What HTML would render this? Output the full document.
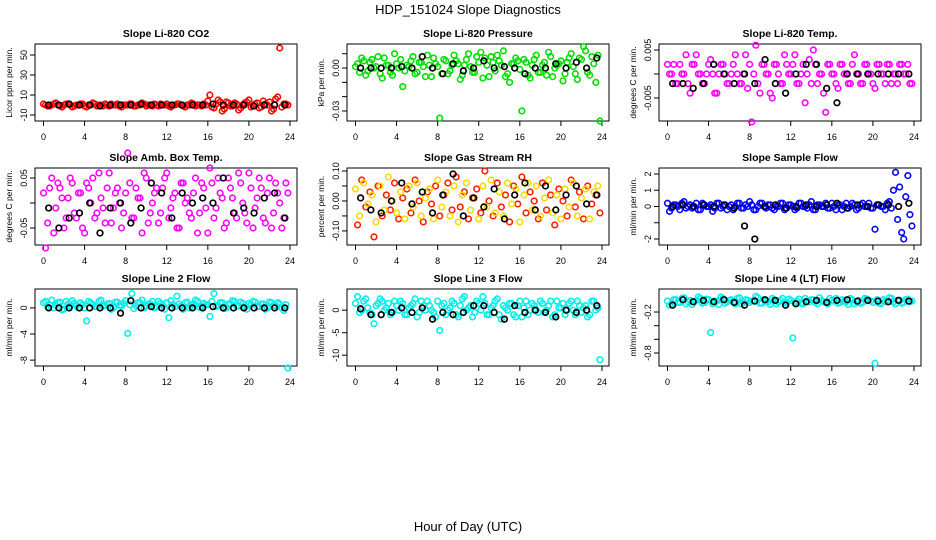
<!DOCTYPE html>
<html><head><meta charset="utf-8">
<style>
html,body{margin:0;padding:0;background:#fff;}
svg{display:block;font-family:"Liberation Sans",sans-serif;}
</style></head>
<body>
<svg id="chart" width="936" height="540" viewBox="0 0 936 540" xmlns="http://www.w3.org/2000/svg">
<text x="468" y="14" text-anchor="middle" font-size="13">HDP_151024  Slope Diagnostics</text>
<text x="468" y="531" text-anchor="middle" font-size="13">Hour of Day (UTC)</text>
</svg>
<script>
const hours = [0.2,0.6,1.0,1.4,1.8,2.2,2.6,3.0,3.4,3.8,4.2,4.6,5.0,5.4,5.8,6.2,6.6,7.0,7.4,7.8,8.2,8.6,9.0,9.4,9.8,10.2,10.6,11.0,11.4,11.8,12.2,12.6,13.0,13.4,13.8,14.2,14.6,15.0,15.4,15.8,16.2,16.6,17.0,17.4,17.8,18.2,18.6,19.0,19.4,19.8,20.2,20.6,21.0,21.4,21.8,22.2,22.6,23.0,23.4,23.8];
const hours2 = [0.0,0.4,0.8,1.2,1.6,2.0,2.4,2.8,3.2,3.6,4.0,4.4,4.8,5.2,5.6,6.0,6.4,6.8,7.2,7.6,8.0,8.4,8.8,9.2,9.6,10.0,10.4,10.8,11.2,11.6,12.0,12.4,12.8,13.2,13.6,14.0,14.4,14.8,15.2,15.6,16.0,16.4,16.8,17.2,17.6,18.0,18.4,18.8,19.2,19.6,20.0,20.4,20.8,21.2,21.6,22.0,22.4,22.8,23.2,23.6];
const blackHours = [0.5,1.5,2.5,3.5,4.5,5.5,6.5,7.5,8.5,9.5,10.5,11.5,12.5,13.5,14.5,15.5,16.5,17.5,18.5,19.5,20.5,21.5,22.5,23.5];
const xTicks = [0,4,8,12,16,20,24];

const co2 = [0,-1,1,0,-2,1,0,-1,0,1,-2,0,1,0,-1,0,1,0,-1,0,0,1,-1,0,1,0,-1,0,1,0,-1,0,1,0,-2,0,1,0,-1,0,10,-3,5,-6,3,-1,2,-5,0,3,-2,1,-3,4,0,-6,6,57,1,0];
const co2b = [1,-1,0,2,-1,0,1,-2,0,1,-1,0,2,-1,0,1,-1,0,1,-2,0,1,-1,0,2,-1,0,1,-1,0,1,-2,0,1,-1,0,2,-1,0,1,4,-2,1,3,-4,2,-1,1,-3,2,5,-1,2,-2,1,3,-4,8,-2,1];
const co2Black = [0,0,1,0,0,-1,0,0,0,1,0,0,0,0,0,0,1,0,0,0,-1,0,0,0];
const pres = [0.003,0.007,-0.005,0.004,0,0.008,-0.007,0.002,-0.003,0.010,0,-0.013,0.002,0.005,-0.004,0.004,0.001,0.009,-0.006,0.003,-0.035,0.006,-0.004,0.002,0.005,-0.008,0.002,0.010,-0.003,0.008,0.011,0.007,-0.006,0.004,0.009,0.002,-0.006,-0.010,0.003,0.005,-0.030,0.004,-0.007,0.006,-0.003,0.002,-0.005,0.008,0,0.003,-0.009,0.004,0.010,-0.004,0.007,0.015,-0.003,0.008,-0.010,-0.037];
const presb = [0.001,-0.003,0.005,-0.002,0.006,0.001,-0.004,0.007,0.002,-0.005,0.003,0.006,-0.002,0.001,0.008,-0.003,0.004,-0.006,0.002,0.007,0.001,-0.004,0.005,-0.002,0.009,0.003,-0.005,0.006,0.001,-0.003,0.004,-0.007,0.002,0.008,-0.002,0.005,0.012,-0.004,0.003,0.007,-0.001,0.006,-0.005,0.002,0.009,-0.003,0.004,0.011,-0.006,0.002,0.005,-0.004,0.007,0.001,-0.008,0.006,0.012,-0.005,0.003,0.009];
const presBlack = [0,0,0,0,0.001,0,0.008,0,-0.004,0.003,-0.002,0,0.005,0,0.001,0,-0.004,0,0,0.003,0,0.004,0,0.007];
const temp = [0,0.002,-0.002,0,0.004,-0.004,0.002,0,-0.002,0,0.003,-0.004,0,0.002,-0.002,0,0.004,-0.002,0,-0.003,-0.010,0.006,-0.004,0.002,0,-0.005,0.002,-0.002,0.004,0,0.002,-0.002,0,-0.006,0.003,0.005,-0.002,0,-0.008,0.002,0,-0.003,0.002,0,-0.002,0.004,0,-0.002,0.002,0,-0.003,0.002,0,0.002,-0.002,0,0.002,0,0.002,-0.002];
const tempb = [0.002,0,-0.002,0.002,0,-0.002,0.002,0.004,0,-0.002,0.002,0,-0.004,0.002,0,-0.002,0.002,0,-0.002,0.004,0.002,0,-0.002,0.002,0,-0.004,0.002,0,-0.002,0.002,0,0.004,-0.002,0.002,0,-0.002,0.002,0,-0.004,0.002,0,-0.002,0.002,0,-0.002,0.002,0,-0.002,0.002,0,-0.002,0.002,0,-0.002,0.002,0,-0.002,0.002,0,-0.002];
const tempBlack = [-0.002,-0.002,-0.003,-0.002,0.002,0,-0.002,0,-0.002,0.003,-0.002,-0.004,0,0.002,0.002,-0.003,-0.006,0,0,0,0,0,0,0];
const amb = [-0.09,0.03,-0.06,0.04,0.01,-0.03,0.05,-0.02,0.02,-0.05,0.04,0,-0.03,0.06,-0.01,0.03,-0.04,0.02,0,-0.02,0.10,-0.03,0.03,0.01,0.06,-0.04,0,0.03,-0.02,0.05,-0.03,0.01,-0.05,0.04,0,-0.02,0.02,-0.06,0.04,-0.01,0.07,-0.03,0.05,0.01,-0.04,0.03,-0.02,0.06,0,-0.04,0.03,-0.01,0.05,-0.03,0.02,-0.05,0.04,0,-0.03,0.02];
const ambb = [0.02,-0.04,0.05,-0.01,0.03,-0.05,0.01,0.04,-0.03,0.02,-0.06,0.03,0.05,-0.02,0.01,-0.04,0.06,-0.01,0.03,-0.05,0.02,0.04,-0.03,0.01,-0.06,0.05,-0.02,0.02,-0.04,0.03,0.06,-0.01,0.02,-0.05,0.04,0.01,-0.03,0.05,-0.02,0.03,-0.06,0.04,-0.01,0.02,-0.05,0.05,0.01,-0.03,0.04,-0.02,0.06,-0.05,0.01,0.03,-0.04,0.05,-0.02,0.02,-0.05,0.04];
const ambBlack = [-0.01,-0.05,-0.03,-0.02,0,-0.06,-0.01,0,-0.04,-0.01,0.04,0.02,-0.03,0.02,0,0.01,0,0.05,-0.02,-0.01,-0.02,0.01,0.02,-0.03];
const rh = [-0.08,0.07,-0.02,0.03,-0.12,0.05,-0.05,0.02,-0.03,0.06,-0.06,0.01,0.04,-0.04,0.07,0,-0.07,0.03,-0.01,0.05,-0.05,0.02,0.06,-0.03,0.08,-0.02,0.03,-0.06,0.01,0.04,-0.04,0.10,0,-0.05,0.06,-0.02,0.02,-0.07,0.05,-0.01,0.08,-0.04,0.03,0,-0.06,0.06,-0.03,0.02,-0.08,0.04,0,-0.05,0.07,-0.02,0.03,-0.06,0.05,-0.01,0.02,-0.04];
const rhb = [0.04,-0.05,0.06,-0.01,0.02,-0.07,0.05,-0.03,0.08,0,-0.04,0.03,-0.06,0.05,-0.02,0.06,-0.05,0.01,0.04,-0.06,0.07,-0.02,0.03,-0.05,0.05,-0.07,0.02,0.06,-0.03,0.01,-0.06,0.05,-0.02,0.07,-0.04,0.03,-0.05,0.06,-0.01,0.04,-0.07,0.02,0.06,-0.03,0.05,-0.05,0.01,0.07,-0.04,0.02,-0.06,0.04,-0.02,0.06,-0.05,0.01,0.04,-0.06,0.03,0.05];
const rhBlack = [0.01,-0.03,-0.04,0,0.06,-0.01,0.03,-0.04,0.02,0.09,-0.05,0.01,-0.02,0.04,-0.06,0.02,0.06,-0.03,0.05,-0.03,0.02,0.05,-0.01,0.02];
const sflow = [-0.3,0.1,0,0.2,-0.1,0.1,0,-0.2,0.2,0,0.1,-0.1,0.2,0,-0.2,0.1,0,0.2,-0.1,0,0.1,-0.2,0.2,0,0.1,-0.1,0,0.2,-0.2,0.1,0,-0.1,0.2,0,0.1,-0.2,0.1,0,0.2,-0.1,0,0.1,-0.2,0.2,0,0.1,-0.1,0.2,0,-0.1,-1.4,0.1,0,0.2,-0.1,2.1,1.2,-2.0,1.9,-1.2];
const sflowb = [0.2,-0.1,0.1,-0.2,0.3,0,-0.1,0.2,-0.2,0.1,0,-0.3,0.2,-0.1,0.1,0,-0.2,0.2,-0.1,0.1,0.3,-0.2,0,0.2,-0.1,0.1,-0.2,0,0.2,-0.1,0.1,-0.2,0.2,0,-0.1,0.3,-0.2,0.1,0,-0.1,0.2,-0.2,0.1,0,-0.1,0.2,-0.2,0.1,0,0.2,-0.1,0.1,0,-0.2,0.3,1.0,-0.8,-1.6,0.6,-0.5];
const sflowBlack = [0,0.1,0,0.1,0,0.1,-0.1,-1.2,-2.0,0,0.1,-0.1,0,0.1,0,0.1,0.2,-0.1,0.1,0,0.1,0.1,0,0.2];
const line2 = [1,0.5,0,0.8,-0.3,1,0.3,0.7,0,0.5,-2,0.8,0.2,1,0.3,0.6,-0.2,0.9,0.4,0.7,-3.9,2.2,0.3,0.8,0,0.6,1,0.2,0.7,-0.2,-1.5,0.5,1.8,0.3,0.8,0,0.6,1,0.2,0.5,-1.3,2.2,0.4,0.8,0,0.6,1,0.3,0.7,-0.2,0.5,0.9,0.2,0.6,0,0.8,0.3,0.6,-0.4,-9.2];
const line2b = [0.8,0.2,1.2,0.4,0.9,-0.2,0.6,1.1,0.3,0.8,0,1,0.5,0.2,1.2,0.4,0.7,0,0.9,0.3,1.1,0.5,-0.1,0.8,1.2,0.3,0.6,0,1,0.4,0.8,1.1,0.2,0.6,-0.2,0.9,0.4,1.2,0.1,0.7,0.5,1,0.2,0.8,-0.1,0.6,1.1,0.3,0.9,0.1,0.7,1,0.2,0.6,-0.2,0.9,0.4,0.8,0,0.5];
const line2Black = [0,0,0,0,0,0,0,-0.8,1.1,0,0.2,0,0,0,0,0,0.2,0,0,0,0,0,0,0];
const line3 = [3,0,2.5,-0.5,-3,1.5,2,0.5,-1,2,0,1.5,-1,1,2.5,-0.5,1,2,0,-1.5,-4.5,1.5,0,2,-1,1,3,0.5,-1.5,2,0,1.5,-1,1,2.5,-2,0.5,1.5,-1,1,-1.5,2,0,1,-0.5,1.5,0,2,-1,0.5,1.5,0,2,-1,1,0.5,-1.5,2,0,-11];
const line3b = [1.5,-0.5,2,0.5,-1,1,2.5,0,1.5,-0.5,1,2,-1,0.5,1.5,-1.5,2,0,1,-0.5,2,1,-1,0.5,1.5,-1.5,2.5,0,1,-0.5,1.5,3,-1,0.5,2,-1,1,0,1.5,-1.5,2,0.5,-1,1.5,0,2,-0.5,1,-1.5,2,0.5,-1,1.5,0,2,-0.5,1,-1,2,0.5];
const line3Black = [0.3,-1,-1,-0.5,0.5,-0.5,0.5,-2,-0.5,-1,-0.5,1,1,-0.5,-2,1,-0.5,0,-0.5,-1.5,0,-0.5,0,1];
const line4 = [-0.1,-0.02,-0.06,0,-0.08,-0.03,-0.05,0.02,-0.07,-0.01,-0.5,-0.04,-0.09,0,-0.05,-0.02,-0.08,0.01,-0.06,-0.03,-0.04,0.03,-0.07,-0.02,-0.05,0,-0.08,-0.03,-0.06,-0.01,-0.58,-0.04,-0.07,0,-0.05,-0.02,-0.08,-0.03,-0.06,0,-0.04,-0.07,-0.02,-0.05,0,-0.08,-0.03,-0.06,-0.01,-0.04,-0.95,-0.07,-0.02,-0.05,0,-0.08,-0.03,-0.06,-0.01,-0.04];
const line4b = [-0.04,-0.08,-0.02,-0.06,0.01,-0.05,-0.09,-0.03,0,-0.06,-0.02,-0.08,-0.04,0.02,-0.07,-0.03,-0.05,0,-0.08,-0.02,-0.06,-0.03,0.01,-0.07,-0.04,-0.09,-0.02,-0.05,0,-0.07,-0.03,-0.06,-0.01,-0.08,-0.04,-0.02,-0.06,0.01,-0.05,-0.08,-0.03,0,-0.06,-0.04,-0.09,-0.02,-0.05,-0.07,0,-0.03,-0.06,-0.02,-0.08,-0.04,0.01,-0.05,-0.03,-0.07,-0.02,-0.05];
const line4Black = [-0.1,-0.02,-0.05,-0.03,-0.05,-0.02,-0.06,-0.1,-0.04,-0.02,-0.03,-0.1,-0.08,-0.05,-0.03,-0.06,-0.03,-0.02,-0.04,-0.03,-0.04,-0.05,-0.03,-0.04];

const co2Ticks = [-10,10,30,50];
const presTicks = [-0.03,0.00];
const presTickLabels = ["-0.03","0.00"];
const presMinor = [-0.02,-0.01,0.01];
const tempTicks = [-0.005,0.005];
const tempMinor = [0];
const ambTicks = [-0.05,0.05];
const ambMinor = [0];
const rhTicks = [-0.10,0.00,0.10];
const rhTickLabels = ["-0.10","0.00","0.10"];
const rhMinor = [-0.05,0.05];
const sflowTicks = [-2,0,1,2];
const sflowMinor = [-1];
const line2Ticks = [-8,-4,0];
const line3Ticks = [-10,-5,0];
const line4Ticks = [-0.8,-0.2];
const line4Minor = [-0.6,-0.4];

const panels = [
 {name:"co2",title:"Slope Li-820 CO2",ylab:"Licor ppm per min.",col:0,row:0,ymin:-16,ymax:61,data:co2,data2:co2b,black:co2Black,color:"#ff0000",ticks:co2Ticks,minor:[]},
 {name:"pressure",title:"Slope Li-820 Pressure",ylab:"kPa per min.",col:1,row:0,ymin:-0.037,ymax:0.0168,data:pres,data2:presb,black:presBlack,color:"#00dd00",ticks:presTicks,labels:presTickLabels,minor:presMinor},
 {name:"li820-temp",title:"Slope Li-820 Temp.",ylab:"degrees C per min.",col:2,row:0,ymin:-0.0098,ymax:0.00625,data:temp,data2:tempb,black:tempBlack,color:"#ff00ff",ticks:tempTicks,minor:tempMinor},
 {name:"amb-box-temp",title:"Slope Amb. Box Temp.",ylab:"degrees C per min.",col:0,row:1,ymin:-0.084,ymax:0.07,data:amb,data2:ambb,black:ambBlack,color:"#ff00ff",ticks:ambTicks,minor:ambMinor},
 {name:"gas-stream-rh",title:"Slope Gas Stream RH",ylab:"percent per min.",col:1,row:1,ymin:-0.147,ymax:0.11,data:rh,data2:rhb,black:rhBlack,color:"#ff2000",color2:"#ffd800",ticks:rhTicks,labels:rhTickLabels,minor:rhMinor},
 {name:"sample-flow",title:"Slope Sample Flow",ylab:"ml/min per min.",col:2,row:1,ymin:-2.37,ymax:2.37,data:sflow,data2:sflowb,black:sflowBlack,color:"#0000ff",ticks:sflowTicks,minor:sflowMinor},
 {name:"line2-flow",title:"Slope Line 2 Flow",ylab:"ml/min per min.",col:0,row:2,ymin:-8.9,ymax:2.9,data:line2,data2:line2b,black:line2Black,color:"#00eeee",ticks:line2Ticks,minor:[]},
 {name:"line3-flow",title:"Slope Line 3 Flow",ylab:"ml/min per min.",col:1,row:2,ymin:-12.4,ymax:4.7,data:line3,data2:line3b,black:line3Black,color:"#00eeee",ticks:line3Ticks,minor:[]},
 {name:"line4-flow",title:"Slope Line 4 (LT) Flow",ylab:"ml/min per min.",col:2,row:2,ymin:-0.99,ymax:0.137,data:line4,data2:line4b,black:line4Black,color:"#00eeee",ticks:line4Ticks,minor:line4Minor}
];

const NS="http://www.w3.org/2000/svg";
const svg=document.getElementById('chart');
function mk(tag,attrs,parent){const e=document.createElementNS(NS,tag);for(const k in attrs)e.setAttribute(k,attrs[k]);(parent||svg).appendChild(e);return e;}
const colX=[35,347,659], colW=262;
const rowY=[[44,121],[168,245],[289,366]];
const x0Off=8.5, x24Off=255;

panels.forEach(p=>{
  const bx=colX[p.col], by=rowY[p.row][0], bb=rowY[p.row][1];
  const g=mk('g',{});
  
  
  const xs=h=>bx+x0Off+(x24Off-x0Off)*h/24;
  const ys=v=>bb-(v-p.ymin)/(p.ymax-p.ymin)*(bb-by);
  const t=mk('text',{x:bx+colW/2,y:by-7,'text-anchor':'middle','font-size':'10.5','font-weight':'bold'},g);
  t.textContent=p.title;
  
  
  const yl=mk('text',{x:0,y:0,'text-anchor':'middle','font-size':'8.5',transform:`translate(${bx-23},${(by+bb)/2}) rotate(-90)`},g);
  yl.textContent=p.ylab;
  
  
  const xa=mk('g',{},g);
  
  
  mk('line',{x1:xs(0),x2:xs(24),y1:bb,y2:bb,stroke:'#000'},xa);
  xTicks.forEach(v=>{
    mk('line',{x1:xs(v),x2:xs(v),y1:bb,y2:bb+5,stroke:'#000'},xa);
    const tl=mk('text',{x:xs(v),y:bb+19,'text-anchor':'middle','font-size':'9'},xa);
    tl.textContent=v;
    
    
  });
  const ya=mk('g',{},g);
  
  
  p.ticks.forEach((v,i)=>{
    const yy=ys(v);
    mk('line',{x1:bx-5,x2:bx,y1:yy,y2:yy,stroke:'#000'},ya);
    const lab=p.labels?p.labels[i]:String(v);
    const tl=mk('text',{x:0,y:0,'text-anchor':'middle','font-size':'9',transform:`translate(${bx-8},${yy}) rotate(-90)`},ya);
    tl.textContent=lab;
    
    
  });
  p.minor.forEach(v=>{const yy=ys(v);mk('line',{x1:bx-5,x2:bx,y1:yy,y2:yy,stroke:'#000'},ya);});
  mk('rect',{x:bx,y:by,width:colW,height:bb-by,fill:'none',stroke:'#000'},g);
  const cs=mk('g',{},g);
  
  
  p.data.forEach((v,i)=>{
    const c=mk('circle',{cx:xs(hours[i]),cy:ys(v),r:2.8,fill:'none',stroke:p.color,'stroke-width':1.6},cs);
    
    
  });
  const cs2=mk('g',{},g);
  
  
  p.data2.forEach((v,i)=>{
    const c=mk('circle',{cx:xs(hours2[i]),cy:ys(v),r:2.8,fill:'none',stroke:p.color2||p.color,'stroke-width':1.6},cs2);
    
    
  });
  const ks=mk('g',{},g);
  
  
  p.black.forEach((v,i)=>{
    const c=mk('circle',{cx:xs(blackHours[i]),cy:ys(v),r:2.8,fill:'none',stroke:'#000','stroke-width':1.7},ks);
    
    
  });
});
</script>
</body></html>
